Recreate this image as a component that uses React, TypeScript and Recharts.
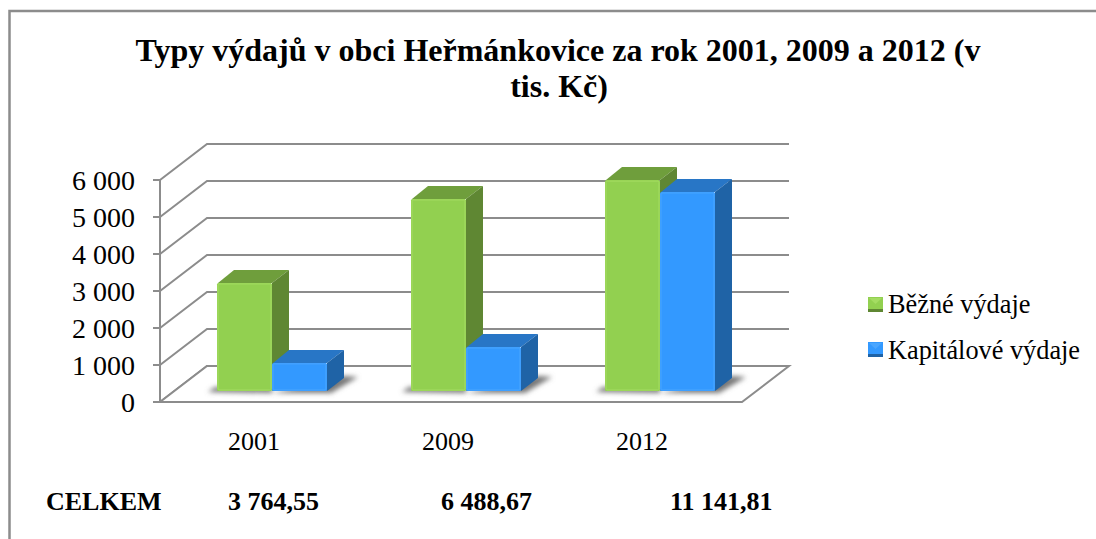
import React from 'react';
import { BarChart, Bar, XAxis, YAxis, CartesianGrid } from 'recharts';

const years = ['2001', '2009', '2012'];
const bezne = [2920, 5190, 5700];
const kapitalove = [760, 1190, 5380];
const totals = ['3 764,55', '6 488,67', '11 141,81'];
const yTicks = [0, 1000, 2000, 3000, 4000, 5000, 6000];

const data = years.map((year, i) => ({
    year,
    bezne: bezne[i],
    kapitalove: kapitalove[i],
}));

const FONT = '"Liberation Serif", serif';
const GRID = '#8c8c8c';

const GREEN = { front: '#92d050', edge: '#a4dc62', top: '#6f9e3c', side: '#5f8733' };
const BLUE = { front: '#3399ff', edge: '#4aa6ff', top: '#2876c6', side: '#1f63a6' };

// how far the 3D wall sits behind the front plane
const WALL_DX = 47;
const WALL_DY = 36;

// bars stand on the floor, a bit behind the front edge
const BAR_DX = 15;
const BAR_DY = 11;
const DEPTH_X = 17;
const DEPTH_Y = 13;

function Bar3D(props: any, colors: typeof GREEN, shadowSide: 'left' | 'right') {
    const x = props.x + BAR_DX;
    const y = props.y - BAR_DY;
    const w = props.width;
    const h = props.height;
    const base = y + h;
    const right = x + w;

    return (
        <g>
            {shadowSide === 'left' ? (
                <polygon
                    points={`${x - 9},${base + 1} ${x + w},${base + 2} ${x + w},${base - 4} ${x - 2},${base - 4}`}
                    fill="#777"
                    filter="url(#barShadow)"
                />
            ) : (
                <polygon
                    points={`${x},${base + 2} ${right + 4},${base + 2} ${right + DEPTH_X + 14},${base - DEPTH_Y - 1} ${right + DEPTH_X},${base - DEPTH_Y - 2}`}
                    fill="#777"
                    filter="url(#barShadow)"
                />
            )}
            <polygon
                points={`${x + 1},${y} ${x + DEPTH_X},${y - DEPTH_Y} ${right + DEPTH_X},${y - DEPTH_Y} ${right},${y}`}
                fill={colors.top}
            />
            <polygon
                points={`${right},${y} ${right + DEPTH_X},${y - DEPTH_Y} ${right + DEPTH_X},${base - DEPTH_Y} ${right},${base}`}
                fill={colors.side}
            />
            <rect x={x} y={y} width={w} height={h} rx={1.5} fill={colors.front} />
            <rect
                x={x + 1}
                y={y + 1}
                width={w - 2}
                height={h - 2}
                rx={1}
                fill="none"
                stroke={colors.edge}
                strokeWidth={1}
            />
        </g>
    );
}

// gridline goes from the axis up the side wall and along the back wall
function WallLine(props: any) {
    const { x1, x2, y1, key } = props;
    const backY = y1 - WALL_DY;
    const backX = x1 + WALL_DX;
    const isFloor = Math.abs(y1 - 402) < 1;
    return (
        <g key={key}>
            <polyline
                points={`${x1},${y1} ${backX},${backY} ${x2 + WALL_DX},${backY}`}
                fill="none"
                stroke={GRID}
                strokeWidth={2}
            />
            {isFloor && (
                <polygon
                    points={`${x1},${y1} ${x2},${y1} ${x2 + WALL_DX},${backY} ${backX},${backY}`}
                    fill="#ffffff"
                    stroke={GRID}
                    strokeWidth={2}
                />
            )}
        </g>
    );
}

function LegendMark({ x, y, colors }: { x: number; y: number; colors: typeof GREEN }) {
    return (
        <g>
            <rect x={x} y={y} width={15} height={15} fill={colors.front} />
            <polygon points={`${x + 1},${y + 1} ${x + 14},${y + 1} ${x + 7.5},${y + 7}`} fill={colors.edge} />
            <rect x={x} y={y + 12} width={15} height={3} fill={colors.side} />
        </g>
    );
}

function YearTick(props: any) {
    const { x, y, payload } = props;
    return (
        <text x={x - 3} y={y + 40} textAnchor="middle" fontFamily={FONT} fontSize={26} fill="#000">
            {payload.value}
        </text>
    );
}

export default function App() {
    return (
        <div style={{ position: 'absolute', left: 0, top: 0, width: 1096, height: 539, background: '#fff' }}>
            <BarChart
                width={1096}
                height={539}
                data={data}
                barSize={55}
                barGap={0}
                barCategoryGap={0}
                margin={{ top: 180, right: 354, bottom: 77, left: 100 }}
            >
                <defs>
                    <filter id="barShadow" x="-30%" y="-100%" width="160%" height="300%">
                        <feGaussianBlur stdDeviation="2.5" />
                    </filter>
                </defs>
                {/* frame is cut off on the right and bottom */}
                <polyline points="9.5,539 9.5,11 1096,11" fill="none" stroke={GRID} strokeWidth={2.5} />
                <text x={558} y={61} textAnchor="middle" fontFamily={FONT} fontSize={32} fontWeight="bold" fill="#000">
                    Typy výdajů v obci Heřmánkovice za rok 2001, 2009 a 2012 (v
                </text>
                <text x={559} y={97} textAnchor="middle" fontFamily={FONT} fontSize={32} fontWeight="bold" fill="#000">
                    tis. Kč)
                </text>
                <CartesianGrid vertical={false} horizontal={WallLine} />
                <XAxis dataKey="year" axisLine={false} tickLine={false} height={60} tick={YearTick} />
                <YAxis
                    width={60}
                    domain={[0, 6000]}
                    ticks={yTicks}
                    interval={0}
                    axisLine={{ stroke: GRID, strokeWidth: 2 }}
                    tickLine={{ stroke: GRID, strokeWidth: 2 }}
                    tickSize={7}
                    tickMargin={18}
                    tickFormatter={(v: number) => (v === 0 ? '0' : `${v / 1000} 000`)}
                    tick={{ fill: '#000', fontSize: 28, fontFamily: FONT }}
                />
                <Bar
                    dataKey="bezne"
                    name="Běžné výdaje"
                    isAnimationActive={false}
                    shape={(p: any) => Bar3D(p, GREEN, 'left')}
                />
                <Bar
                    dataKey="kapitalove"
                    name="Kapitálové výdaje"
                    isAnimationActive={false}
                    shape={(p: any) => Bar3D(p, BLUE, 'right')}
                />
                <LegendMark x={868} y={297} colors={GREEN} />
                <text x={888} y={313} fontFamily={FONT} fontSize={26.3} fill="#000">
                    Běžné výdaje
                </text>
                <LegendMark x={868} y={342} colors={BLUE} />
                <text x={888} y={359} fontFamily={FONT} fontSize={26.3} fill="#000">
                    Kapitálové výdaje
                </text>
                <text x={46} y={510} fontFamily={FONT} fontSize={26} fontWeight="bold" fill="#000">
                    CELKEM
                </text>
                <text x={228} y={510} fontFamily={FONT} fontSize={26} fontWeight="bold" fill="#000">
                    {totals[0]}
                </text>
                <text x={441} y={510} fontFamily={FONT} fontSize={26} fontWeight="bold" fill="#000">
                    {totals[1]}
                </text>
                <text x={670} y={510} fontFamily={FONT} fontSize={26} fontWeight="bold" fill="#000">
                    {totals[2]}
                </text>
            </BarChart>
        </div>
    );
}
